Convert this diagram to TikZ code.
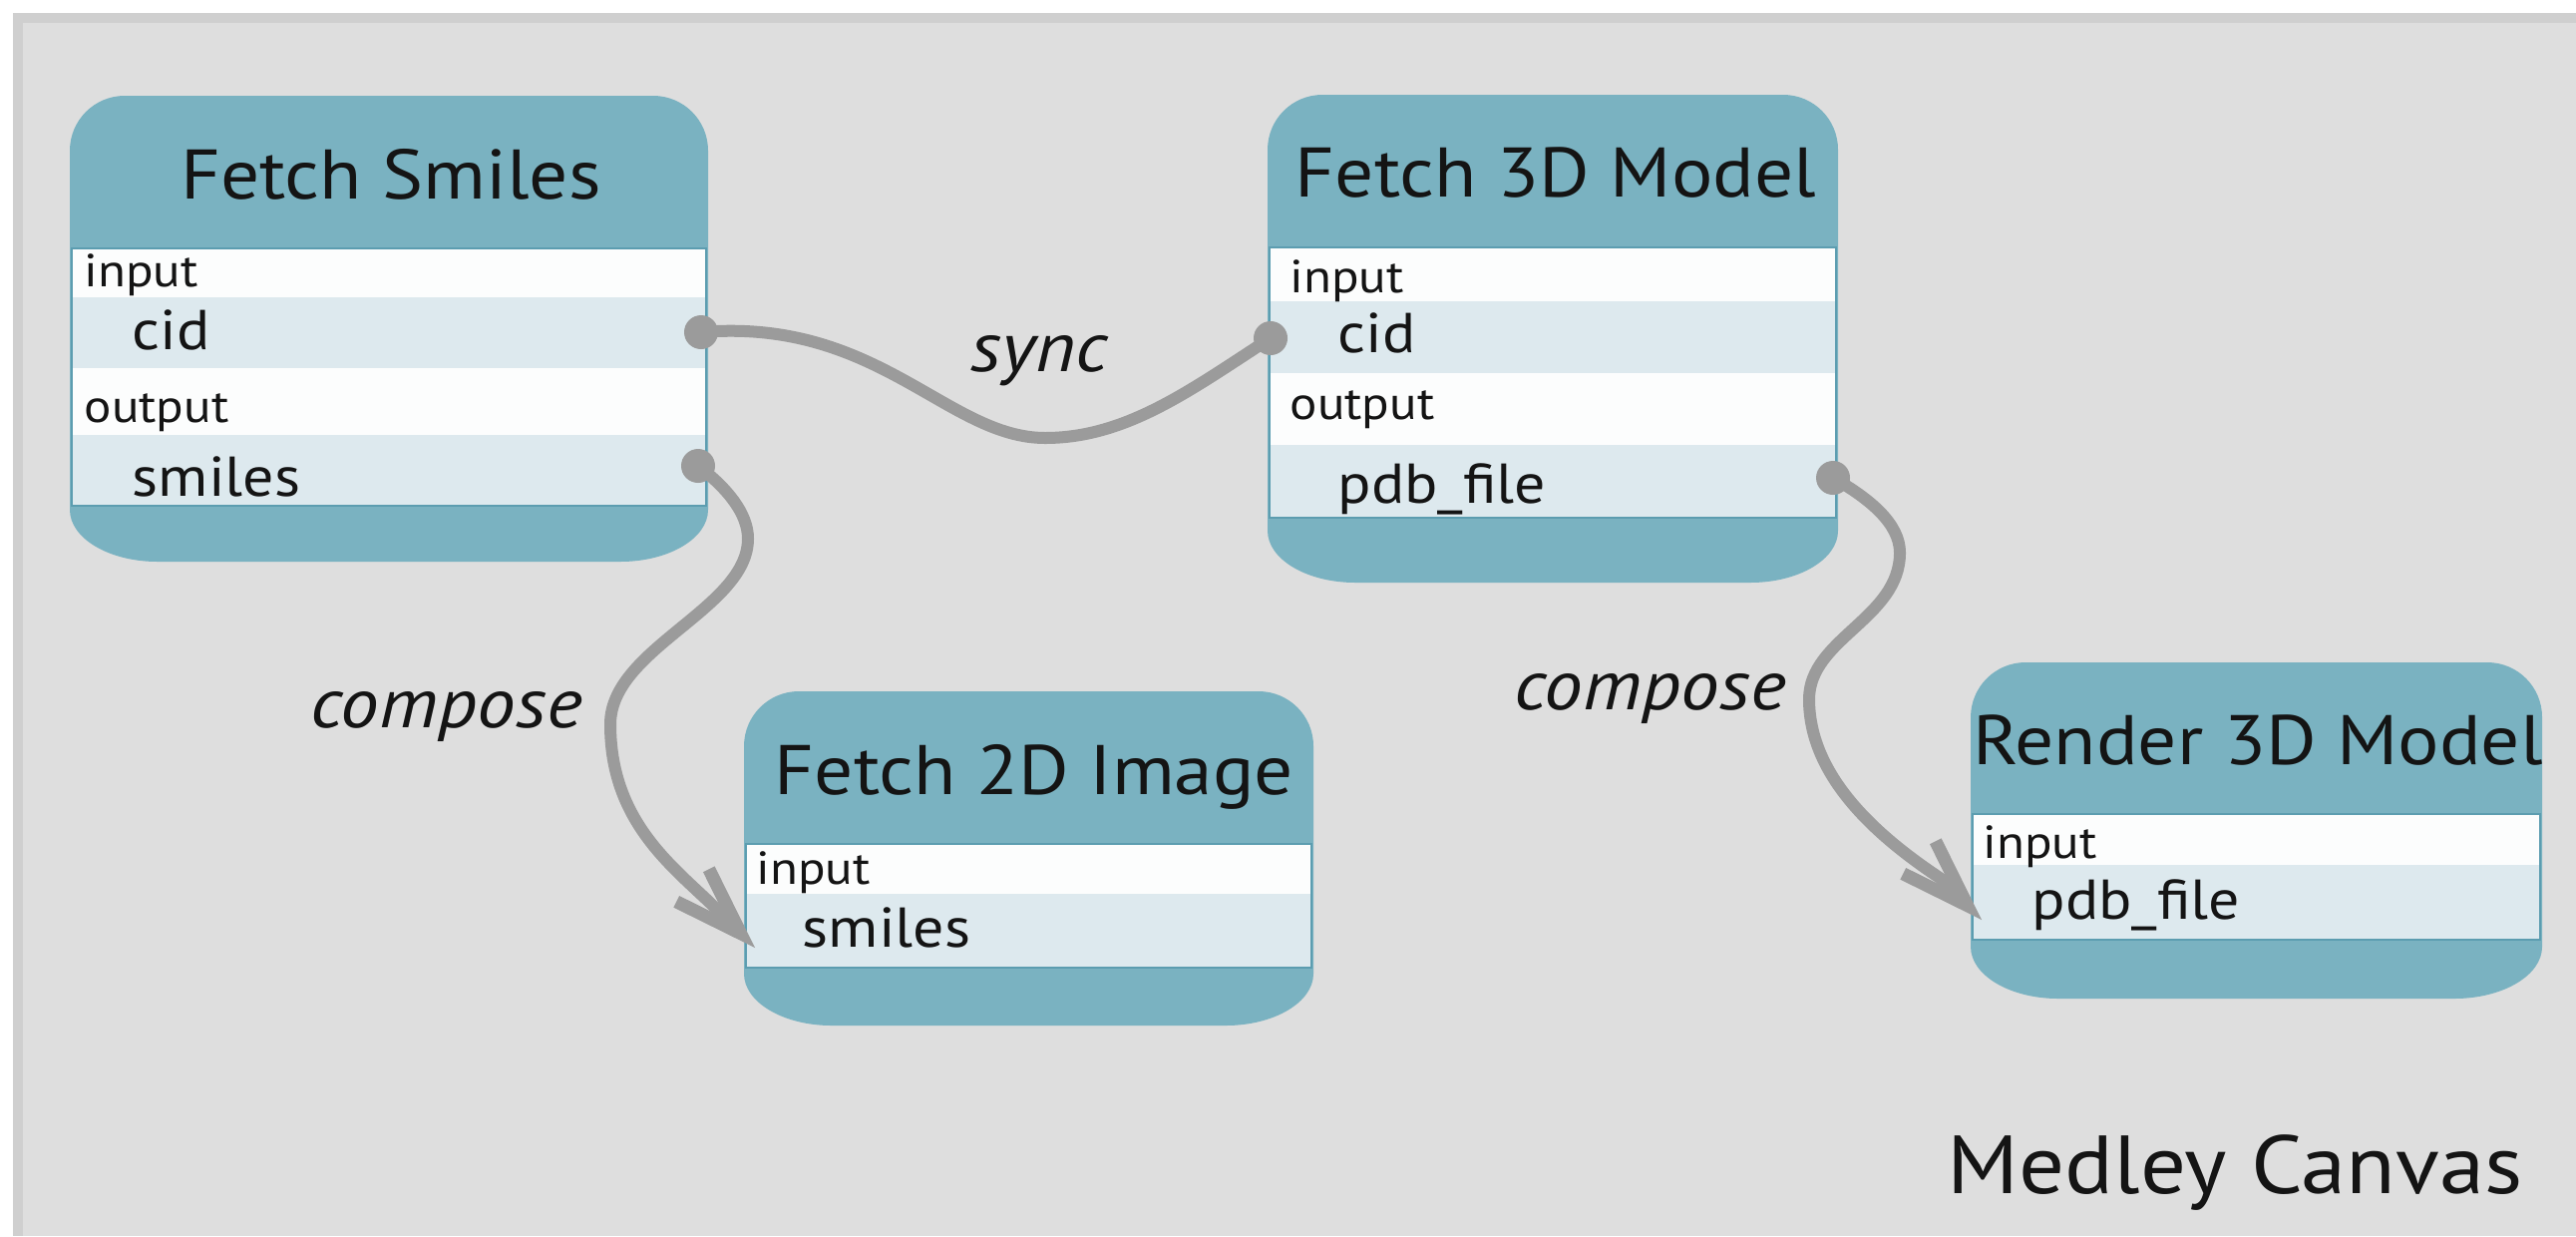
\documentclass[tikz,border=0pt]{standalone}
\usepackage{fontspec}
\setmainfont{PT Sans}[FakeStretch=1.1]
\usetikzlibrary{arrows.meta}

\definecolor{canvasbg}{HTML}{DEDEDE}
\definecolor{canvasedge}{HTML}{CFCFCF}
\definecolor{modteal}{HTML}{7AB2C1}
\definecolor{tableline}{HTML}{5C9DB0}
\definecolor{rowlight}{HTML}{DDE9EE}
\definecolor{rowwhite}{HTML}{FCFDFD}
\definecolor{wiregray}{HTML}{9B9B9B}
\definecolor{inkblack}{HTML}{141414}

% module outline: rounded top corners, flatter elliptical bottom corners
\newcommand{\moduleshape}[4]{%
  \fill[modteal] (#1,#2+55) .. controls (#1,#2+24.6) and (#1+24.6,#2) .. (#1+55,#2)
    -- (#3-55,#2) .. controls (#3-24.6,#2) and (#3,#2+24.6) .. (#3,#2+55)
    -- (#3,#4-52) .. controls (#3,#4-23.3) and (#3-39.4,#4) .. (#3-88,#4)
    -- (#1+88,#4) .. controls (#1+39.4,#4) and (#1,#4-23.3) .. (#1,#4-52) -- cycle;
}
% one table row: left, right, top, bottom, colour
\newcommand{\tablerow}[5]{\fill[#5] (#1+2,#3) rectangle (#2-2,#4);}
\newcommand{\tableframe}[4]{\draw[tableline, line width=0.025cm] (#1+2,#3) rectangle (#2-2,#4);}

\tikzset{
  modtitle/.style={font=\fontsize{20}{22}\selectfont, anchor=base, inner sep=0, text=inkblack},
  seclabel/.style={font=\fontsize{13.2}{15}\selectfont, anchor=base west, inner sep=0, text=inkblack},
  portlabel/.style={font=\fontsize{16}{18}\selectfont, anchor=base west, inner sep=0, text=inkblack},
  linklabel/.style={font=\itshape\fontsize{20}{22}\selectfont, anchor=base west, inner sep=0, text=inkblack},
  portdot/.style={circle, fill=wiregray, inner sep=0, minimum size=0.34cm},
  link/.style={draw=wiregray, line width=0.12cm},
  linkarrow/.style={link, -{Straight Barb[length=0.68cm, width=0.46cm, line width=0.13cm]}},
}

\begin{document}
\begin{tikzpicture}[x=0.01cm, y=-0.01cm]
  \useasboundingbox (0,0) rectangle (2583,1239);

  % canvas
  \fill[white] (0,0) rectangle (2583,1239);
  \fill[canvasedge] (13,13) rectangle (2583,1239);
  \fill[canvasbg] (23,23) rectangle (2583,1239);

  % Fetch Smiles
  \moduleshape{70}{96}{710}{563}
  \tablerow{70}{710}{249}{298}{rowwhite}
  \tablerow{70}{710}{298}{369}{rowlight}
  \tablerow{70}{710}{369}{436}{rowwhite}
  \tablerow{70}{710}{436}{507}{rowlight}
  \tableframe{70}{710}{249}{507}
  \node[modtitle] (fsTitle) at (392,199) {Fetch Smiles};
  \node[seclabel] (fsIn) at (84,287) {input};
  \node[portlabel] (fsCidLbl) at (132,350) {cid};
  \node[seclabel] (fsOut) at (84,423) {output};
  \node[portlabel] (fsSmilesLbl) at (132,497) {smiles};

  % Fetch 3D Model
  \moduleshape{1271}{95}{1843}{584}
  \tablerow{1271}{1843}{248}{302}{rowwhite}
  \tablerow{1271}{1843}{302}{374}{rowlight}
  \tablerow{1271}{1843}{374}{446}{rowwhite}
  \tablerow{1271}{1843}{446}{519}{rowlight}
  \tableframe{1271}{1843}{248}{519}
  \node[modtitle] (tdTitle) at (1560,197) {Fetch 3D Model};
  \node[seclabel] (tdIn) at (1293,293) {input};
  \node[portlabel] (tdCidLbl) at (1341,353) {cid};
  \node[seclabel] (tdOut) at (1293,420) {output};
  \node[portlabel] (tdPdbLbl) at (1341,504) {pdb\_file};

  % Fetch 2D Image
  \moduleshape{746}{693}{1317}{1028}
  \tablerow{746}{1317}{846}{896}{rowwhite}
  \tablerow{746}{1317}{896}{970}{rowlight}
  \tableframe{746}{1317}{846}{970}
  \node[modtitle] (imgTitle) at (1037,796) {Fetch 2D Image};
  \node[seclabel] (imgIn) at (758,886) {input};
  \node[portlabel] (imgSmilesLbl) at (804,949) {smiles};

  % Render 3D Model
  \moduleshape{1976}{664}{2549}{1001}
  \tablerow{1976}{2549}{816}{867}{rowwhite}
  \tablerow{1976}{2549}{867}{942}{rowlight}
  \tableframe{1976}{2549}{816}{942}
  \node[modtitle] (rdTitle) at (2264,766) {Render 3D Model};
  \node[seclabel] (rdIn) at (1988,860) {input};
  \node[portlabel] (rdPdbLbl) at (2037,921) {pdb\_file};

  % ports
  \node[portdot] (fsCid) at (703,333) {};
  \node[portdot] (fsSmiles) at (700,467) {};
  \node[portdot] (tdCid) at (1274,339) {};
  \node[portdot] (tdPdb) at (1838,479) {};
  \coordinate (imgSmiles) at (757,950);
  \coordinate (rdPdb) at (1987,922);

  % links
  \draw[link] (fsCid.center) .. controls (880,318) and (950,439) .. (1048,439)
    .. controls (1130,439) and (1195,390) .. (tdCid.center);
  \draw[linkarrow] (fsSmiles.center) .. controls (730,490) and (750,515) .. (750,540)
    .. controls (750,610) and (612,650) .. (612,726)
    .. controls (612,820) and (670,865) .. (712,905) -- (imgSmiles);
  \draw[linkarrow] (tdPdb.center) .. controls (1875,500) and (1905,525) .. (1905,554)
    .. controls (1905,620) and (1814,640) .. (1814,701)
    .. controls (1814,780) and (1885,840) .. (1945,880) -- (rdPdb);

  % link labels
  \node[linklabel] (syncLbl) at (973,372) {sync};
  \node[linklabel] (composeL) at (311,729) {compose};
  \node[linklabel] (composeR) at (1518,711) {compose};

  \node[font=\fontsize{23.5}{28}\selectfont, anchor=base west, inner sep=0, text=inkblack] (canvasName) at (1952,1196) {Medley Canvas};
\end{tikzpicture}
\end{document}
